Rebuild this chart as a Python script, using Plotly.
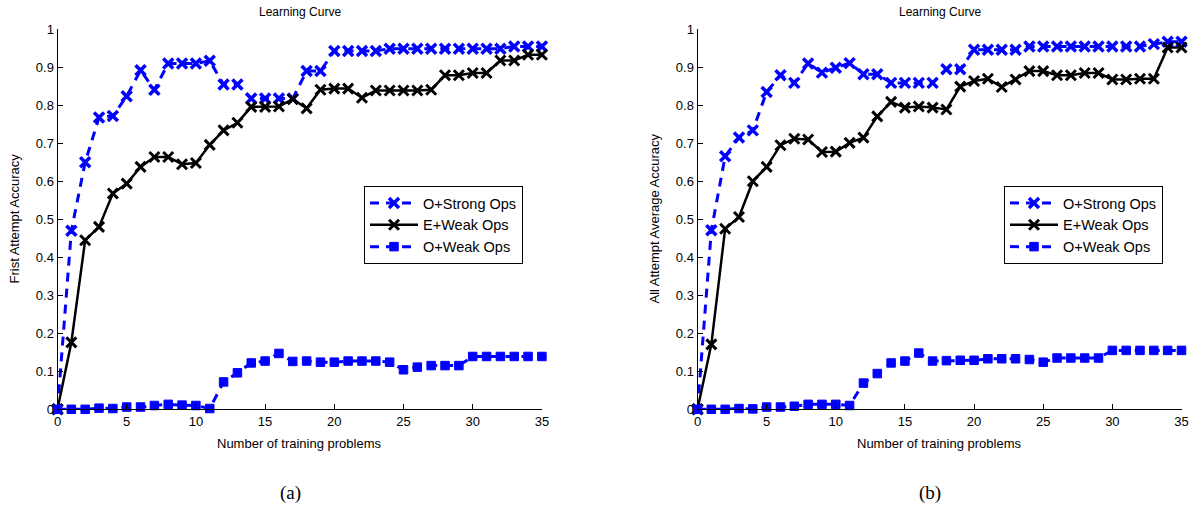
import plotly.graph_objects as go

x_vals = list(range(36))

# (a) First attempt accuracy
a_strong = [0, 0.47, 0.65, 0.768, 0.772, 0.824, 0.892, 0.841, 0.91, 0.91, 0.91, 0.917,
            0.855, 0.855, 0.818, 0.818, 0.818, 0.818, 0.89, 0.89, 0.943, 0.943, 0.943, 0.943,
            0.949, 0.949, 0.949, 0.949, 0.949, 0.949, 0.949, 0.949, 0.949, 0.955, 0.955, 0.955]
a_eweak = [0, 0.176, 0.445, 0.48, 0.568, 0.594, 0.638, 0.664, 0.664, 0.645, 0.648, 0.696,
           0.734, 0.754, 0.796, 0.796, 0.797, 0.816, 0.792, 0.841, 0.844, 0.844, 0.820, 0.839,
           0.839, 0.839, 0.839, 0.841, 0.879, 0.879, 0.885, 0.885, 0.918, 0.918, 0.933, 0.933]
a_oweak = [0, 0, 0, 0.003, 0.002, 0.006, 0.006, 0.01, 0.013, 0.011, 0.01, 0.002,
           0.072, 0.096, 0.122, 0.127, 0.147, 0.126, 0.127, 0.124, 0.124, 0.127, 0.127, 0.127,
           0.124, 0.104, 0.111, 0.115, 0.115, 0.115, 0.139, 0.139, 0.139, 0.139, 0.139, 0.139]

# (b) All attempt average accuracy
b_strong = [0, 0.471, 0.666, 0.715, 0.734, 0.835, 0.879, 0.859, 0.91, 0.886, 0.899, 0.911,
            0.882, 0.882, 0.859, 0.859, 0.859, 0.859, 0.895, 0.895, 0.946, 0.946, 0.946, 0.946,
            0.955, 0.955, 0.955, 0.955, 0.955, 0.955, 0.955, 0.955, 0.955, 0.961, 0.967, 0.967]
b_eweak = [0, 0.171, 0.475, 0.506, 0.6, 0.638, 0.695, 0.712, 0.71, 0.677, 0.678, 0.701,
           0.715, 0.771, 0.809, 0.794, 0.797, 0.794, 0.789, 0.849, 0.864, 0.87, 0.848, 0.868,
           0.89, 0.89, 0.879, 0.879, 0.885, 0.885, 0.868, 0.868, 0.87, 0.87, 0.952, 0.952]
b_oweak = [0, 0, 0, 0.002, 0.001, 0.006, 0.006, 0.008, 0.013, 0.013, 0.013, 0.01,
           0.069, 0.094, 0.122, 0.127, 0.148, 0.127, 0.128, 0.129, 0.129, 0.133, 0.133, 0.133,
           0.131, 0.124, 0.135, 0.135, 0.135, 0.135, 0.155, 0.155, 0.155, 0.155, 0.155, 0.155]

series_names = ["O+Strong Ops", "E+Weak Ops", "O+Weak Ops"]
y_titles = ["Frist Attempt Accuracy", "All Attempt Average Accuracy"]
panel_labels = ["(a)", "(b)"]

BLUE = "#0000ff"
FONT = "Liberation Sans, Arial, sans-serif"

fig = go.Figure()

panels = [(a_strong, a_eweak, a_oweak), (b_strong, b_eweak, b_oweak)]
for i, (s, e, w) in enumerate(panels):
    xa = "x" if i == 0 else "x2"
    ya = "y" if i == 0 else "y2"
    lg = "legend" if i == 0 else "legend2"
    fig.add_trace(go.Scatter(
        x=x_vals, y=s, name=series_names[0], mode="lines+markers", xaxis=xa, yaxis=ya,
        legend=lg, cliponaxis=False,
        line=dict(color=BLUE, width=3, dash="9px,7px"),
        marker=dict(symbol="x-thin", size=10, color=BLUE, line=dict(color=BLUE, width=3.5))))
    fig.add_trace(go.Scatter(
        x=x_vals, y=e, name=series_names[1], mode="lines+markers", xaxis=xa, yaxis=ya,
        legend=lg, cliponaxis=False,
        line=dict(color="black", width=2.5),
        marker=dict(symbol="x-thin", size=10, color="black", line=dict(color="black", width=3))))
    fig.add_trace(go.Scatter(
        x=x_vals, y=w, name=series_names[2], mode="lines+markers", xaxis=xa, yaxis=ya,
        legend=lg, cliponaxis=False,
        line=dict(color=BLUE, width=3, dash="9px,7px"),
        marker=dict(symbol="square", size=8.5, color=BLUE, line=dict(color=BLUE, width=1))))

W, H = 1196, 510
xdom = [(57.5 / W, 541.9 / W), (697.5 / W, 1181.5 / W)]
ydom = ((H - 409.3) / H, (H - 29.3) / H)

axis_common = dict(showline=True, linecolor="black", linewidth=1, mirror=False,
                   ticks="inside", ticklen=5, tickcolor="black", showgrid=False,
                   zeroline=False, automargin=False,
                   tickfont=dict(family=FONT, size=13, color="black"))

legend_common = dict(xanchor="left", yanchor="top", bgcolor="white", bordercolor="black",
                     borderwidth=1, font=dict(family=FONT, size=14.5, color="black"),
                     tracegroupgap=0, itemwidth=48)

fig.update_layout(
    template="none",
    width=W, height=H, margin=dict(l=0, r=0, t=0, b=0, pad=0, autoexpand=False),
    plot_bgcolor="white", paper_bgcolor="white",
    font=dict(family=FONT, size=13, color="black"),
    xaxis=dict(domain=list(xdom[0]), range=[0, 35], dtick=5, anchor="y", **axis_common),
    yaxis=dict(domain=list(ydom), range=[0, 1], dtick=0.1, anchor="x", **axis_common),
    xaxis2=dict(domain=list(xdom[1]), range=[0, 35], dtick=5, anchor="y2", **axis_common),
    yaxis2=dict(domain=list(ydom), range=[0, 1], dtick=0.1, anchor="x2", **axis_common),
    legend=dict(x=364 / W, y=(H - 186) / H, **legend_common),
    legend2=dict(x=1004 / W, y=(H - 186) / H, **legend_common),
    showlegend=True,
)

annotations = []
for i in range(2):
    cx = (xdom[i][0] + xdom[i][1]) / 2
    annotations.append(dict(text="Learning Curve", x=cx, y=(H - 12) / H, xref="paper", yref="paper",
                            xanchor="center", yanchor="middle",
                            showarrow=False, font=dict(family=FONT, size=12)))
    annotations.append(dict(text="Number of training problems", x=cx, y=(H - 443) / H,
                            xref="paper", yref="paper", showarrow=False,
                            xanchor="center", yanchor="middle",
                            font=dict(family=FONT, size=13)))
    annotations.append(dict(text=y_titles[i], x=(xdom[i][0] * W - 44) / W, y=(H - 219) / H,
                            xref="paper", yref="paper", showarrow=False, textangle=-90,
                            xanchor="center", yanchor="middle",
                            font=dict(family=FONT, size=13)))
    annotations.append(dict(text=panel_labels[i], x=(290 if i == 0 else 930) / W, y=(H - 493) / H,
                            xref="paper", yref="paper", showarrow=False,
                            xanchor="center", yanchor="middle",
                            font=dict(family="Liberation Serif, Times New Roman, serif", size=19)))
fig.update_layout(annotations=annotations)

fig.write_html("out.html")
